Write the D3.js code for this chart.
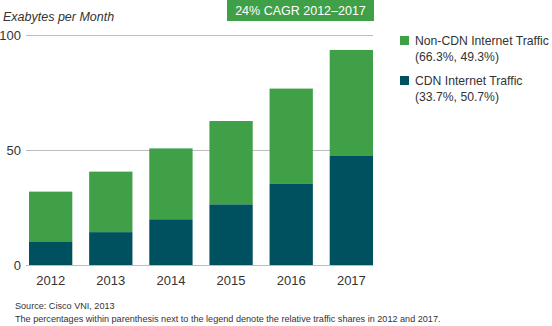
<!DOCTYPE html>
<html>
<head>
<meta charset="utf-8">
<script src="https://cdn.jsdelivr.net/npm/d3@7"></script>
<style>
  body { margin: 0; background: #fff; }
  svg { display: block; font-family: "Liberation Sans", Arial, sans-serif; }
</style>
</head>
<body>
<svg id="chart"></svg>
<script>
/* chart data ----------------------------------------*/
const years = ["2012", "2013", "2014", "2015", "2016", "2017"];
const cdn = [10.3, 14.3, 19.9, 26.4, 35.5, 47.4];
const nonCdn = [21.6, 26.3, 30.8, 36.2, 41.2, 46.1];
const yTicks = [0, 50, 100];
const seriesNames = ["Non-CDN Internet Traffic", "CDN Internet Traffic"];
const seriesShares = ["(66.3%, 49.3%)", "(33.7%, 50.7%)"];
const badgeText = "24% CAGR 2012\u20132017";
const notes = ["Source: Cisco VNI, 2013",
  "The percentages within parenthesis next to the legend denote the relative traffic shares in 2012 and 2017."];

const width = 552, height = 326;
const green = "#40a048", teal = "#00515f";

const svg = d3.select("#chart").attr("width", width).attr("height", height);

/* scales ---------------------------------------------*/
const x = d3.scaleBand().domain(years).range([29, 373]).paddingInner(0.28).paddingOuter(0);
const y = d3.scaleLinear().domain([0, 100]).range([265, 35]);

/* gridlines + y labels --------------------------------*/
const yAxis = svg.append("g")
  .attr("transform", "translate(26,0)")
  .call(d3.axisRight(y).tickValues(yTicks).tickSize(347).tickFormat(d3.format("d")));
yAxis.select(".domain").remove();
yAxis.selectAll("line").attr("stroke", "#bdbdbd");
yAxis.selectAll("text")
  .attr("x", -5).attr("dy", "0.35em")
  .attr("text-anchor", "end")
  .attr("fill", "#333").attr("font-size", 13);

svg.append("text")
  .attr("x", 3).attr("y", 21)
  .attr("font-style", "italic").attr("font-size", 12.5).attr("fill", "#333")
  .text("Exabytes per Month");

/* stacked bars ---------------------------------------*/
const rows = years.map((yr, i) => ({year: yr, cdn: cdn[i], nonCdn: nonCdn[i]}));
const stack = d3.stack().keys(["cdn", "nonCdn"])(rows);
const colors = {cdn: teal, nonCdn: green};

svg.append("g").selectAll("g")
  .data(stack).join("g")
  .attr("fill", d => colors[d.key])
  .selectAll("rect")
  .data(d => d).join("rect")
  .attr("x", d => x(d.data.year))
  .attr("width", x.bandwidth())
  .attr("y", d => y(d[1]))
  .attr("height", d => y(d[0]) - y(d[1]));

/* x labels -------------------------------------------*/
const xAxis = svg.append("g")
  .attr("transform", "translate(0,270)")
  .call(d3.axisBottom(x).tickSize(0));
xAxis.select(".domain").remove();
xAxis.selectAll("text").attr("font-size", 13).attr("fill", "#333").attr("dy", "0.95em");

/* CAGR badge -----------------------------------------*/
svg.append("rect").attr("x", 227).attr("y", 0).attr("width", 147).attr("height", 21).attr("fill", green);
svg.append("text")
  .attr("x", 300.5).attr("y", 11).attr("dy", "0.35em")
  .attr("text-anchor", "middle").attr("fill", "#fff").attr("font-size", 12.5)
  .text(badgeText);

/* legend ---------------------------------------------*/
const legend = svg.append("g").selectAll("g")
  .data(seriesNames).join("g")
  .attr("transform", (d, i) => `translate(400,${35 + i * 40})`);
legend.append("rect").attr("width", 9).attr("height", 9).attr("y", 1)
  .attr("fill", (d, i) => i === 0 ? green : teal);
legend.append("text").attr("x", 15).attr("y", 9.5)
  .attr("font-size", 12.2).attr("fill", "#333").text(d => d);
legend.append("text").attr("x", 15).attr("y", 25.5)
  .attr("font-size", 12.2).attr("fill", "#333").text((d, i) => seriesShares[i]);

/* footnotes ------------------------------------------*/
svg.append("g").selectAll("text")
  .data(notes).join("text")
  .attr("x", 15).attr("y", (d, i) => 309 + i * 13)
  .attr("font-size", 9.1).attr("fill", "#333")
  .text(d => d);
</script>
</body>
</html>
